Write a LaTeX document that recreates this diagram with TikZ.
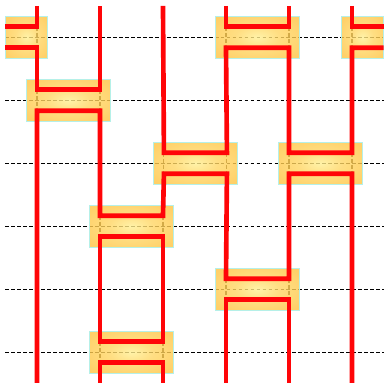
\documentclass[tikz,border=0pt]{standalone}
\usepackage{xcolor}
\usetikzlibrary{calc}

\definecolor{wirered}{HTML}{FF0508}
\definecolor{gateout}{HTML}{FFC442}
\definecolor{gatein}{HTML}{FFEF92}
\definecolor{gatemid}{HTML}{FFD664}
\definecolor{gateedge}{HTML}{B5F0E8}

\pgfdeclareradialshading{gateglow}{\pgfpoint{0bp}{0bp}}{%
  color(0bp)=(gatein); color(13bp)=(gatemid); color(32bp)=(gateout); color(50bp)=(gateout)}

% gate across two wires: name, left wire, row
\newcommand{\gate}[3]{%
  \coordinate (#1ul) at (#2,#3-1/6);
  \coordinate (#1ur) at (#2+1,#3-1/6);
  \coordinate (#1ll) at (#2,#3+1/6);
  \coordinate (#1lr) at (#2+1,#3+1/6);
  \draw[cross] (#1ul) -- (#1ll);
  \draw[cross] (#1ur) -- (#1lr);
  \node[gatebox, minimum width=4/3*1cm] (#1) at (#2+.5,#3) {};
}

\begin{document}
\begin{tikzpicture}[
    x=1cm, y=-1cm,
    wire/.style={draw=wirered, line width=2.1pt},
    rail/.style={dash pattern=on 1.7pt off 1pt, black, line width=.45pt},
    cross/.style={dash pattern=on 1.7pt off 1pt, black!85!orange, line width=.5pt},
    gatebox/.style={rectangle, draw=gateedge, line width=.4pt, inner sep=0pt,
      minimum height=2/3*1cm, shading=gateglow, fill opacity=.8}
  ]
    \useasboundingbox (-.587,-.592) rectangle (5.508,5.487);

    % Rows
    \foreach \r in {0,...,5} {
      \coordinate (l\r) at (-.5,\r);
      \coordinate (e\r) at (5.5,\r);
      \draw[rail] (l\r) -- (e\r);
    }

    % Wire ends
    \foreach \k in {0,...,5} {
      \coordinate (t\k) at (\k,-.5);
      \coordinate (b\k) at (\k,5.5);
    }

    % Cut gates on both sides
    \coordinate (aul) at (-.5,-1/6);
    \coordinate (aur) at (0,-1/6);
    \coordinate (all) at (-.5,1/6);
    \coordinate (alr) at (0,1/6);
    \coordinate (cul) at (5,-1/6);
    \coordinate (cur) at (5.5,-1/6);
    \coordinate (cll) at (5,1/6);
    \coordinate (clr) at (5.5,1/6);
    \draw[cross] (aur) -- (alr);
    \draw[cross] (cul) -- (cll);
    \node[gatebox, minimum width=2/3*1cm] (a) at (-1/6,0) {};
    \node[gatebox, minimum width=2/3*1cm] (c) at (31/6,0) {};

    % Gates
    \gate{b}{3}{0}
    \gate{d}{0}{1}
    \gate{e}{2.015}{2}
    \gate{f}{4}{2}
    \gate{g}{1}{3}
    \gate{h}{3}{4}
    \gate{i}{1}{5}

    % Wires
    \draw[wire] (t0) -- (aur) -- (aul);
    \draw[wire] (all) -- (alr) -- (dul) -- (dur) -- (t1);
    \draw[wire] (b0) -- (dll) -- (dlr) -- (gul) -- (gur) -- (ell) -- (elr) -- (hul) -- (hur) -- (fll) -- (flr) -- (b5);
    \draw[wire] (t2) -- (eul) -- (eur) -- (bll) -- (blr) -- (ful) -- (fur) -- (cll) -- (clr);
    \draw[wire] (t3) -- (bul) -- (bur) -- (t4);
    \draw[wire] (t5) -- (cul) -- (cur);
    \draw[wire] (gll) -- (glr) -- (iur) -- (iul) -- cycle;
    \draw[wire] (b3) -- (hll) -- (hlr) -- (b4);
    \draw[wire] (b1) -- (ill) -- (ilr) -- (b2);
\end{tikzpicture}
\end{document}
